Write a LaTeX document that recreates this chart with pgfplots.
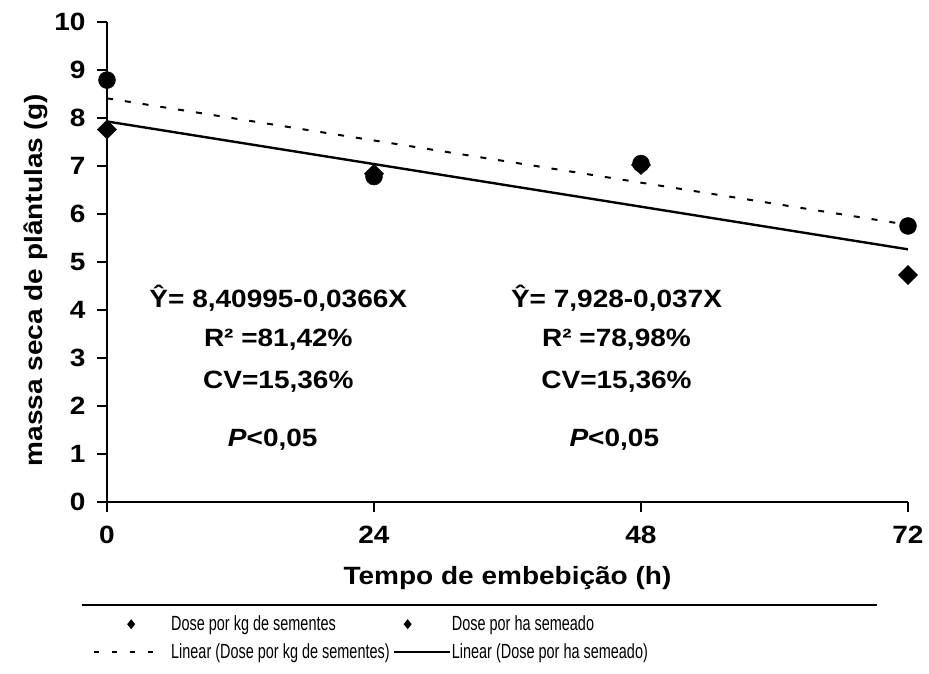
\documentclass[border=0pt]{standalone}
\usepackage{fontspec}
\setmainfont{Liberation Sans}
\newfontfamily\wide[FakeStretch=1.12]{Liberation Sans}
\newfontfamily\narrow[FakeStretch=0.705]{Liberation Sans}
\usepackage{pgfplots}
\pgfplotsset{compat=1.18}

\pgfplotstableread{
x y
0 8.79
24 6.78
48 7.05
72 5.75
}\kgdata
\pgfplotstableread{
x y
0 7.76
24 6.84
48 7.02
72 4.73
}\hadata
\pgfplotstableread{
x y
0 8.40995
72 5.77475
}\kgfit
\pgfplotstableread{
x y
0 7.928
72 5.264
}\hafit

\newcommand{\annfont}{\wide\bfseries\fontsize{25}{30}\selectfont}

\begin{document}
\begin{tikzpicture}
\useasboundingbox (-107pt,-172pt) rectangle (822pt,502pt);
\begin{axis}[
  scale only axis, width=801pt, height=480pt,
  xmin=0, xmax=72, ymin=0, ymax=10,
  clip=false,
  axis x line=bottom, axis y line=left,
  axis line style={line width=2.2pt,-},
  xtick={0,24,48,72}, ytick={0,1,...,10},
  tick align=outside, major tick length=10pt,
  every tick/.style={line width=2pt,black},
  /pgf/number format/assume math mode=true,
  ticklabel style={font=\wide\bfseries\fontsize{25}{28}\selectfont},
  xticklabel style={yshift=-11pt},
  yticklabel style={xshift=-8pt},
  xlabel={Tempo de embebição (h)},
  xlabel style={font=\annfont, at={(axis description cs:0.5,0)}, anchor=center, yshift=-76pt},
  ylabel={massa seca de plântulas (g)},
  ylabel style={font=\annfont, at={(axis description cs:-0.0886,0.462)}, anchor=center},
  legend columns=2,
  legend style={draw=none, fill=none, inner sep=0pt,
    at={(axis description cs:-0.0175,-0.2250)}, anchor=north west,
    font=\narrow\fontsize{20.5}{23}\selectfont,
    nodes={inner xsep=1pt, inner ysep=5.8pt},
    /tikz/every odd column/.style={column sep=0pt}},
  legend cell align=left,
]
\addplot[black, line width=2pt, dash pattern=on 6pt off 12pt, forget plot] table[x=x,y=y] {\kgfit};
\addplot[black, line width=2.4pt, forget plot] table[x=x,y=y] {\hafit};
\addplot[only marks, mark=square*, mark size=6.8pt, mark options={rotate=45, fill=black, draw=black}, forget plot] table[x=x,y=y] {\hadata};
\addplot[only marks, mark=*, mark size=8.5pt, mark options={fill=black, draw=black}, forget plot] table[x=x,y=y] {\kgdata};

\addlegendimage{legend image code/.code={
  \path[draw=none,fill=none] (0pt,0pt) -- (76pt,0pt);
  \path[draw=none,fill=black] (37pt,0pt) ++(0,5pt) -- ++(4pt,-5pt) -- ++(-4pt,-5pt) -- ++(-4pt,5pt) -- cycle;}}
\addlegendentry{Dose por kg de sementes}
\addlegendimage{legend image code/.code={
  \path[draw=none,fill=none] (0pt,0pt) -- (59pt,0pt);
  \path[draw=none,fill=black] (17pt,0pt) ++(0,5pt) -- ++(4pt,-5pt) -- ++(-4pt,-5pt) -- ++(-4pt,5pt) -- cycle;}}
\addlegendentry{Dose por ha semeado}
\addlegendimage{legend image code/.code={
  \path[draw=none,fill=none] (0pt,0pt) -- (76pt,0pt);
  \draw[line width=2pt, dash pattern=on 5pt off 13pt] (0pt,0pt) -- (68pt,0pt);}}
\addlegendentry{Linear (Dose por kg de sementes)}
\addlegendimage{legend image code/.code={
  \path[draw=none,fill=none] (0pt,0pt) -- (59pt,0pt);
  \draw[line width=2.4pt] (3pt,0pt) -- (59pt,0pt);}}
\addlegendentry{Linear (Dose por ha semeado)}

\node[font=\annfont, align=center] at (axis cs:15.4,4.25) {Ŷ= 8,40995-0,0366X};
\node[font=\annfont, align=center] at (axis cs:15.4,3.375) {R² =81,42\%};
\node[font=\annfont, align=center] at (axis cs:15.4,2.5) {CV=15,36\%};
\node[font=\annfont, align=center] at (axis cs:14.9,1.29) {\textit{P}<0,05};
\node[font=\annfont, align=center] at (axis cs:45.8,4.25) {Ŷ= 7,928-0,037X};
\node[font=\annfont, align=center] at (axis cs:45.8,3.375) {R² =78,98\%};
\node[font=\annfont, align=center] at (axis cs:45.8,2.5) {CV=15,36\%};
\node[font=\annfont, align=center] at (axis cs:45.6,1.29) {\textit{P}<0,05};
\end{axis}
\draw[line width=1.5pt] (-25pt,-103pt) -- (770pt,-103pt);
\end{tikzpicture}
\end{document}
